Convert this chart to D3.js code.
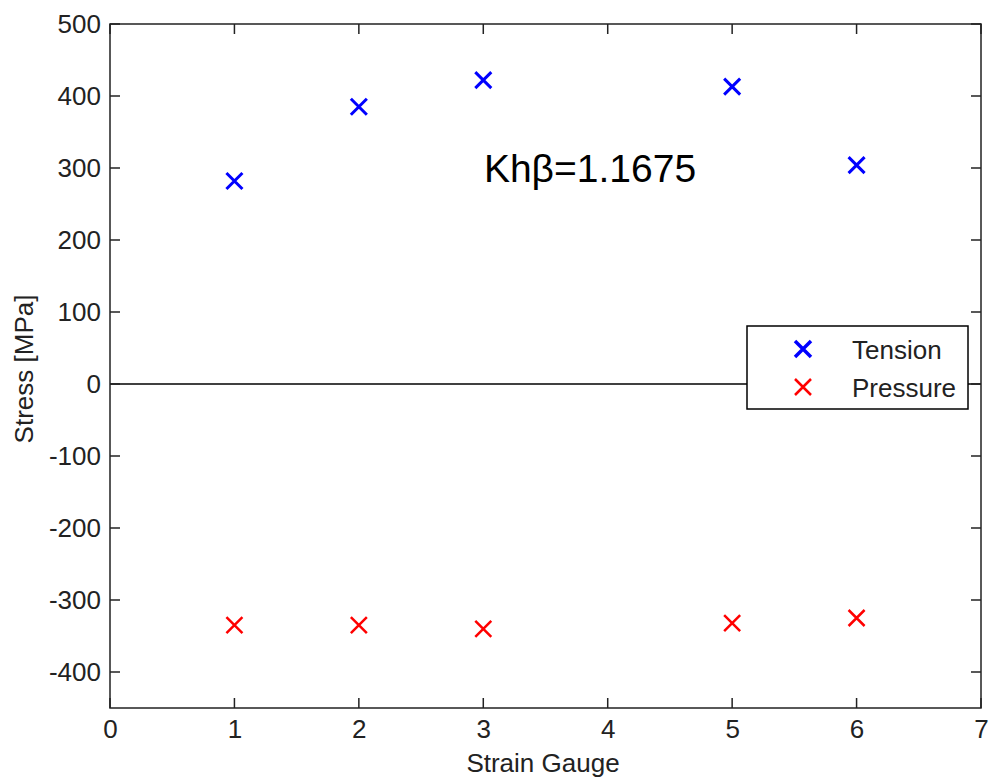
<!DOCTYPE html>
<html><head><meta charset="utf-8">
<script src="https://cdn.jsdelivr.net/npm/d3@7"></script>
<style>body{margin:0;background:#fff}text{font-family:"Liberation Sans",Arial,sans-serif}</style>
</head><body><svg id="c" width="989" height="780"></svg>
<script>
const gauges = [1, 2, 3, 5, 6];
const tension = [282, 385, 422, 413, 304];
const pressure = [-335, -335, -340, -332, -325];
const xTicks = [0, 1, 2, 3, 4, 5, 6, 7];
const yTicks = [-400, -300, -200, -100, 0, 100, 200, 300, 400, 500];
const seriesNames = ["Tension", "Pressure"];
const seriesColors = ["#0000ff", "#ff0000"];

const svg = d3.select("#c");
const L = 110, R = 981, T = 24, B = 708;
const x = d3.scaleLinear().domain([0, 7]).range([L, R]);
const y = d3.scaleLinear().domain([-450, 500]).range([B, T]);
const fmt = v => String(v);

svg.append("rect").attr("width", 989).attr("height", 780).attr("fill", "#fff");

// zero line
svg.append("line").attr("x1", L).attr("x2", R).attr("y1", y(0)).attr("y2", y(0))
  .attr("stroke", "#000").attr("stroke-width", 1.5);

const tickLen = 10;
const axB = svg.append("g").attr("transform", `translate(0,${B})`)
  .call(d3.axisBottom(x).tickValues(xTicks).tickSize(0).tickPadding(12).tickFormat(fmt));
const axL = svg.append("g").attr("transform", `translate(${L},0)`)
  .call(d3.axisLeft(y).tickValues(yTicks).tickSize(0).tickPadding(9).tickFormat(fmt));
[axB, axL].forEach(a => {
  a.select(".domain").remove();
  a.selectAll("text").attr("font-size", 26).attr("fill", "#222");
});
// inner ticks, mirrored
const tk = svg.append("g").attr("stroke", "#222").attr("stroke-width", 1.5);
xTicks.forEach(v => {
  tk.append("line").attr("x1", x(v)).attr("x2", x(v)).attr("y1", B).attr("y2", B - tickLen);
  tk.append("line").attr("x1", x(v)).attr("x2", x(v)).attr("y1", T).attr("y2", T + tickLen);
});
yTicks.forEach(v => {
  tk.append("line").attr("y1", y(v)).attr("y2", y(v)).attr("x1", L).attr("x2", L + tickLen);
  tk.append("line").attr("y1", y(v)).attr("y2", y(v)).attr("x1", R).attr("x2", R - tickLen);
});
svg.append("rect").attr("x", L).attr("y", T).attr("width", R - L).attr("height", B - T)
  .attr("fill", "none").attr("stroke", "#222").attr("stroke-width", 1.5);

function cross(g, cx, cy, color, s, w) {
  g.append("path").attr("d", `M${cx - s},${cy - s}L${cx + s},${cy + s}M${cx - s},${cy + s}L${cx + s},${cy - s}`)
    .attr("stroke", color).attr("stroke-width", w).attr("fill", "none");
}
const pts = svg.append("g");
gauges.forEach((g, i) => {
  cross(pts, x(g), y(tension[i]), seriesColors[0], 8, 3);
  cross(pts, x(g), y(pressure[i]), seriesColors[1], 8, 2.5);
});

// annotation
svg.append("text").attr("x", 590).attr("y", 182).attr("text-anchor", "middle")
  .attr("font-size", 39).attr("fill", "#000").text("Khβ=1.1675");

// legend
const lg = svg.append("g");
lg.append("rect").attr("x", 747).attr("y", 326).attr("width", 221).attr("height", 83)
  .attr("fill", "#fff").attr("stroke", "#000").attr("stroke-width", 1.5);
seriesNames.forEach((n, i) => {
  const yy = 349 + i * 38;
  cross(lg, 803, yy, seriesColors[i], 8, i === 0 ? 3.5 : 2.5);
  lg.append("text").attr("x", 852).attr("y", yy + 10).attr("font-size", 26).attr("fill", "#222").text(n);
});

// axis labels
svg.append("text").attr("x", 543).attr("y", 772).attr("text-anchor", "middle")
  .attr("font-size", 26).attr("fill", "#222").text("Strain Gauge");
svg.append("text").attr("transform", `translate(33,369) rotate(-90)`).attr("text-anchor", "middle")
  .attr("font-size", 26).attr("fill", "#222").text("Stress [MPa]");
</script></body></html>
